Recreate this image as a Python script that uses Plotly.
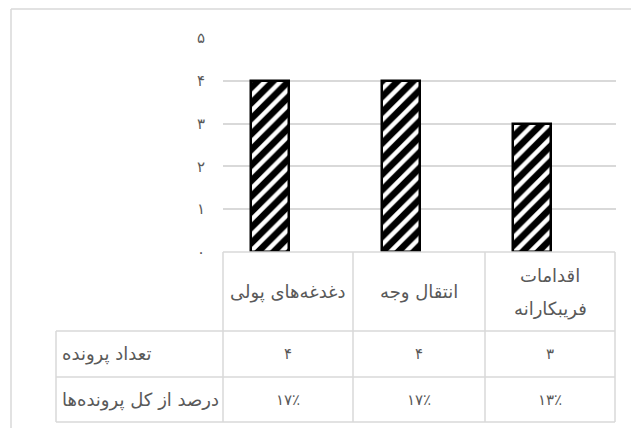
import plotly.graph_objects as go

# ---- data ----
categories = ["دغدغه‌های پولی", "انتقال وجه", "اقدامات\nفریبکارانه"]
counts = [4, 4, 3]
count_labels = ["۴", "۴", "۳"]
percent_labels = ["۱۷٪", "۱۷٪", "۱۳٪"]
row_labels = ["تعداد پرونده", "درصد از کل پرونده‌ها"]
y_ticks = [0, 1, 2, 3, 4, 5]
y_tick_labels = ["۰", "۱", "۲", "۳", "۴", "۵"]

W, H = 631, 428
L, R, T, B = 223, 616, 38, 252  # plot area in px

def px(x):
    return (x - L) / (R - L)

def py(y):
    return (B - y) / (B - T)

GRID = "#d9d9d9"
TXT = "#595959"
FONT = "DejaVu Sans"

fig = go.Figure()
fig.add_trace(go.Bar(
    x=list(range(len(categories))),
    y=counts,
    width=0.29,
    offset=-0.29,
    marker=dict(
        color="white",
        line=dict(color="black", width=2.5),
        pattern=dict(shape="/", fgcolor="#000000", fgopacity=1, bgcolor="white",
                     size=11, solidity=0.6),
    ),
    hoverinfo="skip",
))

shapes = []
def line(x0, y0, x1, y1, color=GRID, w=1.5):
    shapes.append(dict(type="line", xref="paper", yref="paper",
                       x0=px(x0), y0=py(y0), x1=px(x1), y1=py(y1),
                       line=dict(color=color, width=w)))

# outer chart border (left and top visible)
line(11, 9, 11, 440)
line(11, 9, 640, 9)

# table geometry
col_edges = [223, 353, 485, 615]
row_edges = [252, 331, 377, 422]
label_left = 56

# horizontal lines
line(col_edges[0], row_edges[0], col_edges[-1], row_edges[0])
for ry in row_edges[1:]:
    line(label_left, ry, col_edges[-1], ry)
# vertical lines
for cx in col_edges:
    line(cx, row_edges[0], cx, row_edges[-1])
line(label_left, row_edges[1], label_left, row_edges[-1])

annotations = []
def text(x, y, s, anchor="center", size=18):
    annotations.append(dict(xref="paper", yref="paper", x=px(x), y=py(y), text=s,
                            showarrow=False, xanchor=anchor, yanchor="middle",
                            font=dict(family=FONT, size=size, color=TXT)))

for i, cat in enumerate(categories):
    cx = (col_edges[i] + col_edges[i + 1]) / 2
    parts = cat.split("\n")
    cy = (row_edges[0] + row_edges[1]) / 2
    if len(parts) == 1:
        text(cx, cy, parts[0])
    else:
        text(cx, cy - 16, parts[0])
        text(cx, cy + 17, parts[1])
    text(cx, (row_edges[1] + row_edges[2]) / 2, count_labels[i], size=15)
    text(cx, (row_edges[2] + row_edges[3]) / 2, percent_labels[i], size=15)

for j, lab in enumerate(row_labels):
    text(label_left + 4, (row_edges[j + 1] + row_edges[j + 2]) / 2, lab, anchor="left")

fig.update_layout(
    width=W, height=H,
    margin=dict(l=L, r=W - R, t=T, b=H - B),
    paper_bgcolor="white", plot_bgcolor="white",
    showlegend=False,
    xaxis=dict(range=[-0.5, 2.5], showticklabels=False, showgrid=False,
               zeroline=False, showline=False, fixedrange=True),
    yaxis=dict(range=[0, 5], tickvals=y_ticks, ticktext=y_tick_labels,
               showgrid=True, gridcolor=GRID, gridwidth=1.5,
               zeroline=False, showline=False, ticks="",
               ticklabelstandoff=17,
               tickfont=dict(family=FONT, size=15, color=TXT), fixedrange=True),
    shapes=shapes,
    annotations=annotations,
    bargap=0,
)

fig.write_html("out.html")
